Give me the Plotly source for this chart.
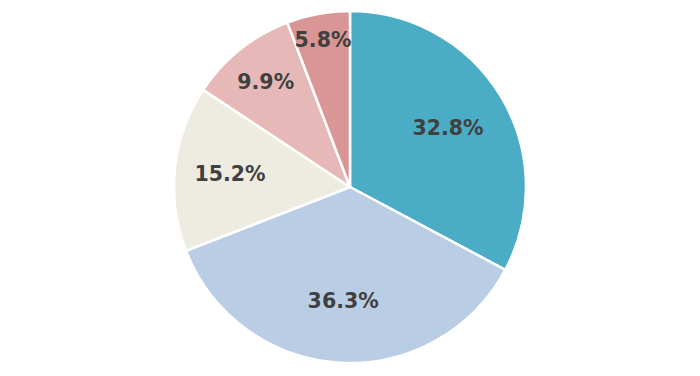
import plotly.graph_objects as go

labels = ["A", "B", "C", "D", "E"]
values = [32.8, 36.3, 15.2, 9.9, 5.8]
colors = ["#4BACC6", "#B9CDE5", "#EEECE1", "#E6B9B8", "#D99694"]

common = dict(labels=labels, values=values, sort=False, direction="clockwise",
              rotation=0, showlegend=False)

fig = go.Figure()
fig.add_trace(go.Pie(
    **common,
    marker=dict(colors=colors, line=dict(color="white", width=2.5)),
    textinfo="none",
    hoverinfo="label+value",
))
fig.add_trace(go.Pie(
    **common,
    hole=0.3,
    marker=dict(colors=["rgba(0,0,0,0)"] * len(values), line=dict(width=0)),
    texttemplate="%{value:.1f}%",
    textposition="inside",
    insidetextorientation="horizontal",
    textfont=dict(family="DejaVu Sans", size=20.5, color="#404040", weight="bold"),
    hoverinfo="skip",
))
fig.update_layout(
    width=700, height=376,
    margin=dict(l=0, r=16, t=3, b=21),
    paper_bgcolor="white",
    plot_bgcolor="white",
    uniformtext=dict(minsize=20.5, mode="show"),
)
fig.write_html("out.html")
